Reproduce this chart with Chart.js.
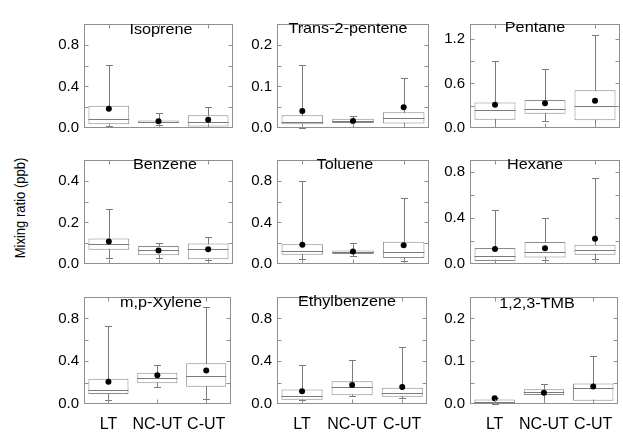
<!DOCTYPE html>
<html>
<head>
<meta charset="utf-8">
<script src="https://cdn.jsdelivr.net/npm/chart.js@4.4.1/dist/chart.umd.min.js"></script>
<style>
  html, body { margin: 0; padding: 0; background: #fff; width: 623px; height: 437px; overflow: hidden; }
  .panel { position: absolute; }
  .title { position: absolute; font-family: Arial, 'Liberation Sans', sans-serif; font-size: 15px; color: #000;
           white-space: nowrap; transform: translate(-50%, -50%) scaleX(1.08); }
  #ylab { position: absolute; left: 20px; top: 208px; font-family: Arial, 'Liberation Sans', sans-serif; font-size: 14px;
          color: #000; white-space: nowrap; transform: translate(-50%, -50%) rotate(-90deg) scaleX(0.93); }
</style>
</head>
<body>
<div id="ylab">Mixing ratio (ppb)</div>
<script>
'use strict'

// Data (ppb)
var categories = ['LT', 'NC-UT', 'C-UT'];
var species = ['Isoprene', 'Trans-2-pentene', 'Pentane', 'Benzene', 'Toluene', 'Hexane',
    'm,p-Xylene', 'Ethylbenzene', '1,2,3-TMB'];

var whiskerLow = [
    [0.023, 0.028, 0.008], [0.001, 0.002, 0.002], [0.008, 0.092, 0.016],
    [0.027, 0.027, 0.018], [0.045, 0.074, 0.028], [0.008, 0.038, 0.043],
    [0.034, 0.156, 0.051], [0.034, 0.079, 0.054], [0.001, 0.002, 0.002]
];
var q1 = [
    [0.037, 0.048, 0.014], [0.0092, 0.012, 0.0107], [0.112, 0.192, 0.104],
    [0.069, 0.042, 0.023], [0.088, 0.096, 0.057], [0.025, 0.056, 0.079],
    [0.093, 0.195, 0.161], [0.040, 0.082, 0.068], [0.002, 0.0212, 0.0078]
];
var median = [
    [0.085, 0.060, 0.054], [0.0135, 0.017, 0.0234], [0.236, 0.260, 0.296],
    [0.095, 0.067, 0.074], [0.127, 0.113, 0.113], [0.066, 0.101, 0.119],
    [0.130, 0.246, 0.266], [0.074, 0.161, 0.102], [0.0057, 0.028, 0.038]
];
var q3 = [
    [0.213, 0.071, 0.122], [0.0305, 0.022, 0.0376], [0.344, 0.376, 0.508],
    [0.123, 0.086, 0.098], [0.190, 0.130, 0.215], [0.139, 0.190, 0.167],
    [0.235, 0.292, 0.380], [0.136, 0.212, 0.153], [0.0106, 0.0347, 0.048]
];
var whiskerHigh = [
    [0.61, 0.14, 0.20], [0.151, 0.030, 0.119], [0.896, 0.80, 1.256],
    [0.265, 0.102, 0.132], [0.80, 0.198, 0.632], [0.464, 0.395, 0.748],
    [0.728, 0.365, 0.909], [0.36, 0.414, 0.535], [0.013, 0.046, 0.113]
];
var mean = [
    [0.185, 0.065, 0.080], [0.041, 0.017, 0.050], [0.312, 0.332, 0.368],
    [0.108, 0.065, 0.071], [0.184, 0.119, 0.181], [0.129, 0.137, 0.218],
    [0.207, 0.269, 0.312], [0.119, 0.178, 0.159], [0.0135, 0.026, 0.041]
];

// y axes
var yMax = [1.0, 0.25, 1.4, 0.5, 1.0, 0.9, 1.0, 1.0, 0.25];
var yTickValues = [
    [0, 0.2, 0.4, 0.6, 0.8], [0, 0.05, 0.1, 0.15, 0.2], [0, 0.3, 0.6, 0.9, 1.2],
    [0, 0.1, 0.2, 0.3, 0.4], [0, 0.2, 0.4, 0.6, 0.8], [0, 0.2, 0.4, 0.6, 0.8],
    [0, 0.2, 0.4, 0.6, 0.8], [0, 0.2, 0.4, 0.6, 0.8], [0, 0.05, 0.1, 0.15, 0.2]
];
var yTickLabels = [
    ['0.0', '', '0.4', '', '0.8'], ['0.0', '', '0.1', '', '0.2'], ['0.0', '', '0.6', '', '1.2'],
    ['0.0', '', '0.2', '', '0.4'], ['0.0', '', '0.4', '', '0.8'], ['0.0', '', '0.4', '', '0.8'],
    ['0.0', '', '0.4', '', '0.8'], ['0.0', '', '0.4', '', '0.8'], ['0.0', '', '0.1', '', '0.2']
];

// panel frames on the page
var colLeft = [84, 277, 470], colRight = [234, 430, 621];
var rowTop = [14, 150, 287], rowBottom = [132, 268, 404];
var titlePos = [[161, 28], [348, 27], [535, 26], [165, 163], [345, 163], [535, 163], [161, 301], [347, 300], [537, 302]];

var FONT = 'Arial, "Liberation Sans", sans-serif';
var AXIS_W = 44, PAD_T = 4, PAD_R = 3;

// whiskers, medians and the framed box with inward ticks
var boxParts = {
    id: 'boxParts',
    beforeDatasetsDraw: function (chart, args, opts) {
        var p = opts.panel, ctx = chart.ctx, x = chart.scales.x, y = chart.scales.y;
        ctx.save();
        ctx.strokeStyle = '#7a7a7a';
        ctx.lineWidth = 1;
        categories.forEach(function (c, i) {
            var px = Math.round(x.getPixelForValue(i)) + 0.5;
            var lo = Math.round(y.getPixelForValue(whiskerLow[p][i])) + 0.5;
            var hi = Math.round(y.getPixelForValue(whiskerHigh[p][i])) + 0.5;
            ctx.beginPath();
            ctx.moveTo(px, lo); ctx.lineTo(px, hi);
            ctx.moveTo(px - 3.5, lo); ctx.lineTo(px + 3.5, lo);
            ctx.moveTo(px - 3.5, hi); ctx.lineTo(px + 3.5, hi);
            ctx.stroke();
        });
        ctx.restore();
    },
    afterDatasetDraw: function (chart, args, opts) {
        if (args.index !== 1) return;
        var p = opts.panel, ctx = chart.ctx, y = chart.scales.y;
        ctx.save();
        ctx.strokeStyle = '#7a7a7a';
        ctx.lineWidth = 1;
        args.meta.data.forEach(function (bar, i) {
            var my = Math.round(y.getPixelForValue(median[p][i])) + 0.5;
            ctx.beginPath();
            ctx.moveTo(bar.x - bar.width / 2, my);
            ctx.lineTo(bar.x + bar.width / 2, my);
            ctx.stroke();
        });
        ctx.restore();
    },
    afterDraw: function (chart) {
        var ctx = chart.ctx, a = chart.chartArea, x = chart.scales.x, y = chart.scales.y;
        var l = Math.round(a.left) + 0.5, r = Math.round(a.right) - 0.5;
        var t = Math.round(a.top) + 0.5, b = Math.round(a.bottom) - 0.5;
        ctx.save();
        ctx.strokeStyle = '#8f8f8f';
        ctx.lineWidth = 1;
        ctx.strokeRect(l, t, r - l, b - t);
        ctx.beginPath();
        y.ticks.forEach(function (tk) {
            if (tk.value === 0) return;
            var py = Math.round(y.getPixelForValue(tk.value)) + 0.5;
            ctx.moveTo(l, py); ctx.lineTo(l + 4, py);
            ctx.moveTo(r, py); ctx.lineTo(r - 4, py);
        });
        categories.forEach(function (c, i) {
            var px = Math.round(x.getPixelForValue(i)) + 0.5;
            ctx.moveTo(px, t); ctx.lineTo(px, t + 4);
            ctx.moveTo(px, b); ctx.lineTo(px, b - 4);
        });
        ctx.stroke();
        ctx.restore();
    }
};

species.forEach(function (name, p) {
    var row = Math.floor(p / 3), col = p % 3;
    var last = row === 2;
    var L = colLeft[col], R = colRight[col], T = rowTop[row], B = rowBottom[row];
    var padB = last ? 3 : 10;
    var xH = last ? 26 : 0;

    var div = document.createElement('div');
    div.className = 'panel';
    div.style.left = (L - AXIS_W) + 'px';
    div.style.top = (T - PAD_T) + 'px';
    var canvas = document.createElement('canvas');
    canvas.width = (R - L) + AXIS_W + PAD_R;
    canvas.height = (B - T) + PAD_T + xH + padB;
    div.appendChild(canvas);
    document.body.appendChild(div);

    var title = document.createElement('div');
    title.className = 'title';
    title.textContent = name;
    title.style.left = titlePos[p][0] + 'px';
    title.style.top = titlePos[p][1] + 'px';
    document.body.appendChild(title);

    new Chart(canvas.getContext('2d'), {
        type: 'bar',
        data: {
            labels: categories,
            datasets: [{
                type: 'line',
                data: mean[p],
                showLine: false,
                pointRadius: 3,
                pointBorderWidth: 0,
                pointBackgroundColor: '#000',
                pointBorderColor: '#000'
            }, {
                type: 'bar',
                data: q1[p].map(function (v, i) { return [v, q3[p][i]]; }),
                backgroundColor: '#fff',
                borderColor: '#8a8a8a',
                borderWidth: 1,
                borderSkipped: false,
                barPercentage: 0.82,
                categoryPercentage: 1
            }]
        },
        options: {
            responsive: false,
            animation: false,
            devicePixelRatio: 1,
            layout: { padding: { left: 0, top: PAD_T, right: PAD_R, bottom: padB } },
            plugins: {
                legend: { display: false },
                tooltip: { enabled: false },
                boxParts: { panel: p }
            },
            scales: {
                x: {
                    display: last,
                    offset: true,
                    grid: { display: false, drawTicks: false },
                    border: { display: false },
                    ticks: {
                        color: '#000',
                        font: { family: FONT, size: 16 },
                        padding: 11,
                        maxRotation: 0,
                        autoSkip: false
                    },
                    afterFit: function (s) { s.height = xH; }
                },
                y: {
                    min: 0,
                    max: yMax[p],
                    grid: { display: false, drawTicks: false },
                    border: { display: false },
                    afterBuildTicks: function (s) {
                        s.ticks = yTickValues[p].map(function (v) { return { value: v }; });
                    },
                    ticks: {
                        color: '#000',
                        font: { family: FONT, size: 15 },
                        padding: 5,
                        autoSkip: false,
                        callback: function (v, idx) { return yTickLabels[p][idx]; }
                    },
                    afterFit: function (s) { s.width = AXIS_W; }
                }
            }
        },
        plugins: [boxParts]
    });
});
</script>
</body>
</html>
